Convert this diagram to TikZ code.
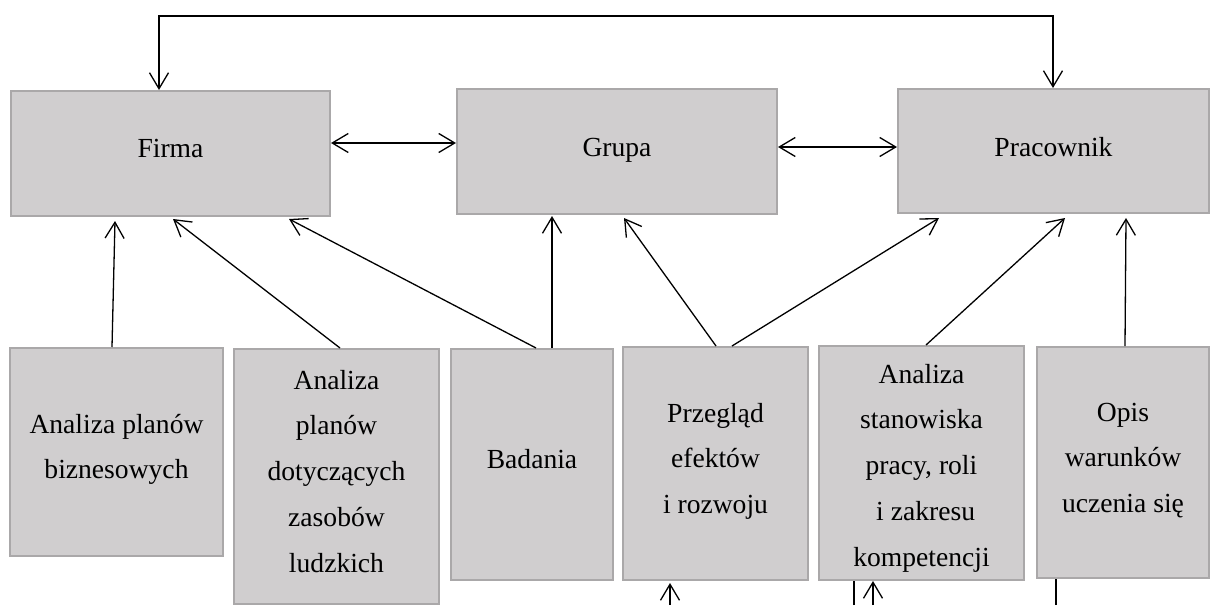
\documentclass[tikz,border=0pt]{standalone}
\usepackage{fontspec}
\setmainfont{Liberation Serif}
\usetikzlibrary{arrows.meta,calc}
\definecolor{boxfill}{RGB}{208,206,207}
\definecolor{boxline}{RGB}{170,168,169}
\begin{document}
\begin{tikzpicture}[x=0.5pt,y=-0.5pt,
  box/.style={draw=boxline, fill=boxfill, line width=1pt, rectangle,
    inner sep=0pt, align=center, font=\fontsize{13.8}{22.9}\selectfont},
  % last baseline below the top edge, and the rest of the height
  lines/.style 2 args={text height=#1, text depth=#2},
  link/.style={line width=0.65pt, -{Straight Barb[length=8pt,width=9.5pt]}},
  dbl/.style={line width=0.65pt,
    {Straight Barb[length=8pt,width=9.5pt]}-{Straight Barb[length=8pt,width=9.5pt]}},
  plain/.style={line width=0.65pt}]
\useasboundingbox (0,0) rectangle (1210,605);

% upper level
\node[box, minimum width=159.5pt, lines={33pt}{29.5pt}] (firma) at (170.5,153.5) {Firma};
\node[box, minimum width=160pt, lines={33.5pt}{29pt}] (grupa) at (617,151.5) {Grupa};
\node[box, minimum width=155.5pt, lines={33.5pt}{28.5pt}] (prac) at (1053.5,151) {Pracownik};

% lower level
\node[box, minimum width=106.5pt, lines={65.4pt}{38.6pt}] (b1) at (116.5,452)
  {Analiza planów\\biznesowych};
\node[box, minimum width=102.5pt, lines={111.6pt}{15.9pt}] (b2) at (336.5,476.5)
  {Analiza\\planów\\dotyczących\\zasobów\\ludzkich};
\node[box, minimum width=81pt, lines={59.5pt}{56pt}] (b3) at (532,464.5) {Badania};
\node[box, minimum width=92.5pt, lines={83.3pt}{33.2pt}] (b4) at (715.5,463.5)
  {Przegląd\\efektów\\i rozwoju};
\node[box, minimum width=102.5pt, lines={110.1pt}{6.9pt}] (b5) at (921.5,463)
  {Analiza\\stanowiska\\pracy, roli\\\hspace*{0.3em}i zakresu\\kompetencji};
\node[box, minimum width=86pt, lines={82.8pt}{32.7pt}] (b6) at (1123,462.5)
  {Opis\\warunków\\uczenia się};

% loop over the top
\draw[dbl] ($(firma.north)+(-11.5,0)$) -- ++(0,-74) -| ($(prac.north)+(-0.5,0)$);

% links between upper boxes
\draw[dbl] ($(firma.east)+(0,-10.5)$) -- ($(grupa.west)+(0,-8.5)$);
\draw[dbl] ($(grupa.east)+(0,-4.5)$) -- ($(prac.west)+(0,-4)$);

% links from lower to upper boxes
\draw[link] ($(b1.north)+(-4.5,0)$) -- ($(firma.south)+(-55.5,4)$);
\draw[link] ($(b2.north)+(3.5,0)$) -- ($(firma.south)+(2.5,2)$);
\draw[link] ($(b3.north)+(4,0)$) -- ($(firma.south)+(118.5,2)$);
\draw[link] ($(b3.north)+(20,0)$) -- ($(grupa.south)+(-65,1)$);
\draw[link] ($(b4.north)+(0.5,0)$) -- ($(grupa.south)+(7,3)$);
\draw[link] ($(b4.north)+(16.5,0)$) -- ($(prac.south)+(-114.5,4)$);
\draw[link] ($(b5.north)+(4.5,0)$) -- ($(prac.south)+(11.5,4)$);
\draw[link] ($(b6.north)+(2,0)$) -- ($(prac.south)+(72.5,4)$);

% stubs below the lower boxes
\coordinate (s1) at (670,605);
\coordinate (s2) at (854,605);
\coordinate (s3) at (873,605);
\coordinate (s4) at (1056,605);
\draw[link] (s1) -- ($(b4.south)+(-45.5,2)$);
\draw[plain] (s2) -- (b5.south -| s2);
\draw[link] (s3) -- (b5.south -| s3);
\draw[plain] (s4) -- (b6.south -| s4);
\end{tikzpicture}
\end{document}
